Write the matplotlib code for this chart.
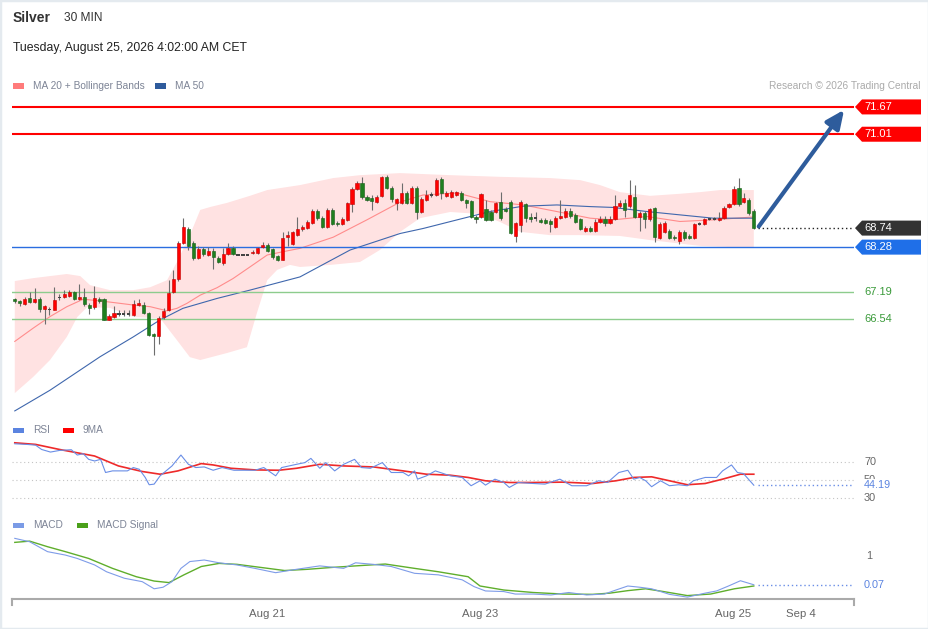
import matplotlib
matplotlib.use('Agg')
import matplotlib.pyplot as plt
from matplotlib.patches import Polygon, Rectangle
from matplotlib.lines import Line2D
import numpy as np

plt.rcParams['font.family'] = ['Liberation Sans', 'DejaVu Sans']

# ---- Silver, 30 min candles ----
opens = [67.02, 66.98, 66.90, 67.04, 66.96, 67.02, 66.78, 66.78, 66.76, 67.05,
         67.07, 67.10, 67.19, 67.02, 67.08, 66.88, 66.83, 67.02, 67.02, 66.53,
         66.60, 66.68, 66.66, 66.68, 66.64, 66.87, 66.88, 66.68, 66.18, 66.14,
         66.58, 66.77, 67.19, 67.50, 68.37, 68.72, 68.37, 68.02, 68.23, 68.09,
         68.19, 68.02, 67.89, 68.11, 68.27, 68.09, 68.09, 68.09, 68.13, 68.13,
         68.28, 68.33, 68.23, 68.06, 67.98, 68.52, 68.35, 68.57, 68.72, 68.75,
         68.87, 69.16, 68.99, 68.77, 69.18, 68.87, 68.83, 68.94, 69.32, 69.69,
         69.84, 69.50, 69.47, 69.38, 69.52, 69.98, 69.72, 69.34, 69.34, 69.60,
         69.34, 69.70, 69.14, 69.42, 69.53, 69.54, 69.93, 69.52, 69.50, 69.54,
         69.60, 69.42, 69.39, 69.02, 69.02, 69.20, 69.14, 69.14, 69.36, 69.20,
         69.38, 68.56, 68.81, 69.32, 69.00, 68.98, 68.94, 68.94, 68.91, 68.77,
         68.98, 69.02, 69.16, 69.06, 68.95, 68.67, 68.74, 68.68, 68.89, 68.95,
         68.87, 68.95, 69.27, 69.34, 69.27, 69.50, 69.00, 69.10, 68.95, 69.22,
         68.51, 68.65, 68.67, 68.53, 68.43, 68.64, 68.56, 68.51, 68.83, 68.83,
         68.96, 68.97, 68.94, 68.98, 69.26, 69.32, 69.70, 69.38, 69.42, 69.16]
highs = [67.06, 66.99, 67.07, 67.19, 67.29, 67.07, 66.88, 66.83, 67.31, 67.14,
         67.24, 67.24, 67.22, 67.39, 67.29, 66.93, 67.34, 67.07, 67.05, 66.66,
         66.85, 66.76, 66.76, 66.76, 67.00, 67.02, 66.95, 66.71, 66.20, 66.61,
         66.80, 67.48, 67.73, 68.43, 68.98, 68.77, 68.43, 68.31, 68.28, 68.28,
         68.26, 68.06, 68.26, 68.39, 68.31, 68.10, 68.10, 68.10, 68.21, 68.28,
         68.40, 68.38, 68.26, 68.09, 68.65, 68.68, 68.67, 69.02, 68.81, 68.94,
         69.20, 69.20, 69.03, 69.23, 69.23, 68.91, 69.01, 69.37, 69.73, 69.88,
         69.98, 69.54, 69.54, 69.54, 70.00, 70.02, 69.76, 69.47, 69.84, 69.64,
         69.76, 69.76, 69.49, 69.66, 69.61, 69.95, 69.98, 69.64, 69.66, 69.64,
         69.64, 69.44, 69.42, 69.06, 69.59, 69.42, 69.18, 69.37, 69.62, 69.25,
         69.42, 68.89, 69.42, 69.35, 69.10, 69.13, 68.98, 68.98, 68.96, 69.03,
         69.42, 69.23, 69.23, 69.10, 68.98, 68.79, 68.79, 68.96, 69.03, 69.03,
         69.03, 69.54, 69.42, 69.44, 69.90, 69.78, 69.15, 69.15, 69.23, 69.25,
         68.89, 68.91, 68.72, 68.57, 68.69, 68.69, 68.60, 68.86, 68.89, 68.98,
         68.98, 69.00, 69.14, 69.27, 69.35, 69.76, 69.94, 69.60, 69.47, 69.20]
lows = [66.94, 66.85, 66.88, 66.93, 66.93, 66.71, 66.42, 66.64, 66.76, 67.00,
        67.05, 67.07, 67.00, 67.00, 66.85, 66.66, 66.78, 66.93, 66.51, 66.51,
        66.56, 66.61, 66.61, 66.62, 66.61, 66.85, 66.66, 66.13, 65.67, 65.94,
        66.54, 66.73, 67.17, 67.46, 68.35, 68.21, 67.97, 67.99, 68.06, 68.06,
        67.75, 67.89, 67.85, 68.09, 68.09, 68.08, 68.08, 68.08, 68.11, 68.11,
        68.26, 68.16, 67.99, 67.94, 67.97, 68.31, 68.33, 68.55, 68.67, 68.72,
        68.84, 68.94, 68.74, 68.74, 68.81, 68.79, 68.81, 68.91, 69.13, 69.66,
        69.44, 69.40, 69.18, 69.35, 69.49, 69.69, 69.37, 69.18, 69.32, 69.32,
        69.32, 68.96, 69.10, 69.40, 69.49, 69.52, 69.44, 69.49, 69.47, 69.52,
        69.40, 69.23, 68.98, 68.86, 68.98, 68.91, 68.91, 69.10, 68.94, 69.13,
        68.60, 68.41, 68.65, 68.89, 68.89, 68.91, 68.86, 68.84, 68.65, 68.74,
        68.96, 68.98, 68.98, 68.86, 68.69, 68.65, 68.65, 68.65, 68.86, 68.79,
        68.84, 68.94, 69.23, 69.02, 69.23, 68.98, 68.67, 68.74, 68.91, 68.41,
        68.48, 68.62, 68.48, 68.45, 68.36, 68.45, 68.48, 68.48, 68.81, 68.81,
        68.94, 68.93, 68.91, 68.96, 69.23, 69.30, 69.27, 69.35, 69.06, 68.72]
closes = [66.98, 66.92, 67.02, 66.96, 67.02, 66.78, 66.85, 66.76, 67.00, 67.07,
          67.14, 67.20, 67.02, 67.08, 66.90, 66.81, 67.06, 66.98, 66.53, 66.61,
          66.69, 66.66, 66.68, 66.66, 66.90, 66.92, 66.68, 66.15, 66.13, 66.56,
          66.74, 67.18, 67.50, 68.39, 68.76, 68.31, 68.02, 68.23, 68.11, 68.19,
          68.03, 67.93, 68.11, 68.27, 68.11, 68.09, 68.09, 68.09, 68.17, 68.26,
          68.33, 68.19, 68.03, 67.97, 68.49, 68.57, 68.64, 68.73, 68.76, 68.88,
          69.16, 68.98, 68.77, 69.18, 68.84, 68.83, 68.96, 69.34, 69.69, 69.82,
          69.48, 69.42, 69.40, 69.50, 69.98, 69.72, 69.44, 69.44, 69.58, 69.34,
          69.70, 69.14, 69.44, 69.54, 69.56, 69.90, 69.60, 69.60, 69.62, 69.61,
          69.42, 69.34, 69.02, 68.96, 69.56, 68.94, 68.94, 69.34, 68.98, 69.16,
          68.63, 68.86, 69.38, 68.98, 68.95, 69.00, 68.88, 68.86, 68.83, 68.98,
          69.03, 69.16, 69.03, 68.89, 68.71, 68.75, 68.68, 68.89, 68.95, 68.87,
          68.95, 69.27, 69.34, 69.18, 69.54, 69.02, 69.11, 68.95, 69.19, 68.53,
          68.84, 68.86, 68.51, 68.49, 68.64, 68.49, 68.51, 68.83, 68.86, 68.95,
          68.96, 68.95, 68.98, 69.23, 69.32, 69.69, 69.32, 69.46, 69.11, 68.74]

# moving averages / bands (candle index, price)
ma20_x = [0, 3.7, 7.1, 10.5, 13.8, 17.2, 20.6, 23.9, 27.3, 30.7, 32.7, 34.7, 37.4, 40.8,
          44.0, 47.4, 50.9, 54.1, 57.5, 64.2, 71.0, 77.7, 82.3, 89.2, 95.8, 102.5,
          109.3, 116.0, 120.6, 127.5, 134.1, 140.8, 149]
ma20 = [66.00, 66.32, 66.60, 66.84, 67.02, 66.98, 66.93, 66.88, 66.84, 66.74, 66.80,
        66.92, 67.12, 67.30, 67.52, 67.80, 68.09, 68.17, 68.25, 68.52, 68.94, 69.37,
        69.54, 69.59, 69.38, 69.30, 69.14, 68.98, 68.94, 69.02, 68.90, 68.94, 69.01]
bb_upper_x = [0, 3.7, 7.1, 10.5, 13.2, 15.2, 19.2, 23.9, 27.3, 30.7, 32.7, 35.3, 37.4,
              39.4, 42.8, 47.4, 50.9, 57.5, 64.2, 69.6, 77.7, 87.8, 97.8, 107.9, 114.0,
              118.0, 122.0, 128.1, 134.1, 138.2, 142.2, 149]
bb_upper = [67.46, 67.53, 67.58, 67.63, 67.58, 67.36, 67.24, 67.24, 67.31, 67.48, 67.92,
            68.57, 69.18, 69.25, 69.35, 69.52, 69.66, 69.78, 69.95, 70.02, 70.07, 70.02,
            69.98, 69.95, 69.90, 69.78, 69.61, 69.52, 69.57, 69.61, 69.66, 69.66]
bb_lower_x = [0, 3.7, 7.1, 10.5, 12.6, 14.6, 19.2, 23.9, 29.3, 32.7, 35.3, 37.4, 42.8,
              46.8, 48.8, 50.9, 52.9, 55.5, 57.5, 63.6, 69.6, 73.6, 77.7, 81.7, 87.8,
              93.8, 97.8, 101.9, 107.9, 114.0, 122.0, 128.1, 138.2, 149]
bb_lower = [64.75, 65.14, 65.55, 66.11, 66.59, 66.83, 66.81, 66.59, 66.56, 66.03, 65.62,
            65.55, 65.72, 65.86, 66.68, 67.48, 67.73, 67.85, 67.80, 67.85, 67.92, 68.21,
            68.65, 68.98, 69.13, 69.08, 68.89, 68.65, 68.57, 68.57, 68.55, 68.45, 68.31,
            68.26]
ma50_x = [0, 7.1, 17.2, 23.9, 29.3, 33.9, 40.8, 47.4, 57.5, 67.6, 77.7, 82.3, 89.2,
          95.8, 102.5, 109.3, 116.0, 120.6, 127.5, 134.1, 140.8, 149]
ma50 = [64.32, 64.82, 65.63, 66.11, 66.52, 66.80, 67.04, 67.24, 67.56, 68.21, 68.61,
        68.73, 68.94, 69.14, 69.27, 69.30, 69.26, 69.24, 69.14, 69.06, 68.98, 68.98]

# levels
resistances = [71.67, 71.01]
pivot = 68.28
supports = [67.19, 66.54]
last_price = 68.74
arrow_target = (167.2, 71.60)

# RSI (candle index, value)
rsi_x = [0.0, 2.4, 4.2, 5.4, 7.2, 9.0, 11.4, 12.6, 13.8, 14.9, 16.1, 17.3, 18.3, 19.7,
         22.7, 23.9, 25.1, 26.3, 27.1, 28.1, 29.3, 31.7, 33.5, 35.0, 36.5, 38.2, 40.0,
         41.8, 44.2, 48.4, 50.2, 52.6, 53.8, 56.8, 58.5, 59.7, 61.5, 62.7, 64.5, 66.3,
         68.5, 69.9, 71.7, 74.1, 75.9, 78.3, 79.4, 80.6, 81.2, 83.0, 84.8, 87.8, 90.2,
         92.0, 93.8, 94.9, 96.8, 98.6, 99.7, 101.5, 104.5, 106.9, 109.9, 112.3, 115.3,
         117.7, 119.5, 121.8, 123.6, 124.8, 126.0, 127.2, 128.4, 130.2, 132.0, 133.8,
         135.6, 136.8, 139.2, 141.5, 142.7, 144.5, 145.7, 146.9, 149]
rsi = [90.2, 89.5, 88.7, 83.9, 81.0, 82.8, 83.6, 77.7, 79.2, 72.9, 71.1, 72.9, 58.3, 60.1,
       60.1, 63.8, 61.9, 52.8, 44.7, 45.4, 54.6, 65.6, 77.7, 67.4, 63.8, 64.5, 60.8,
       63.8, 60.8, 60.8, 63.8, 54.6, 63.8, 67.4, 69.3, 74.0, 63.0, 69.3, 60.1, 67.4,
       72.9, 63.8, 63.0, 69.3, 58.3, 58.3, 54.6, 60.1, 50.9, 54.6, 60.1, 54.6, 52.8,
       43.6, 49.1, 44.3, 50.9, 47.2, 41.7, 47.2, 46.1, 45.4, 50.9, 43.6, 43.6, 49.1,
       47.2, 58.3, 60.8, 50.9, 52.8, 49.1, 42.5, 49.1, 43.6, 44.7, 43.6, 49.1, 52.8,
       52.8, 60.1, 66.7, 58.3, 57.2, 44.19]
rsi_ma_x = [0.0, 4.2, 9.0, 16.1, 20.9, 25.7, 29.3, 32.9, 37.6, 40.0, 43.6, 48.4, 53.2,
            56.8, 61.5, 66.3, 72.3, 78.3, 83.0, 87.8, 91.4, 94.9, 99.7, 104.5, 110.5,
            116.5, 121.2, 124.8, 128.4, 132.0, 135.6, 139.2, 142.7, 146.3, 149]
rsi_ma = [91.3, 89.5, 83.9, 76.6, 65.6, 59.4, 56.4, 60.1, 68.2, 66.7, 63.0, 61.2, 60.8,
          63.0, 67.4, 65.6, 64.5, 60.1, 56.4, 55.3, 52.8, 49.1, 47.2, 47.2, 47.6, 46.1,
          49.1, 52.8, 53.5, 49.1, 44.7, 46.1, 50.9, 56.4, 56.4]

# MACD (candle index, value)
macd_x = [0.0, 3.0, 6.6, 10.2, 12.6, 16.1, 18.5, 22.1, 25.7, 28.1, 29.9, 31.7, 33.5,
          35.3, 38.2, 41.2, 44.8, 48.4, 52.6, 56.8, 61.5, 66.3, 68.7, 72.3, 75.9, 80.6,
          85.4, 90.2, 92.6, 94.9, 98.6, 100.9, 104.5, 108.1, 111.7, 115.3, 118.9, 121.2,
          123.6, 126.0, 128.4, 132.0, 135.6, 139.2, 141.5, 143.9, 146.3, 149]
macd = [1.57, 1.46, 1.14, 1.03, 0.92, 0.71, 0.49, 0.28, 0.17, -0.06, -0.01, 0.17, 0.60,
        0.82, 0.87, 0.78, 0.71, 0.60, 0.46, 0.57, 0.68, 0.60, 0.78, 0.73, 0.66, 0.44,
        0.39, 0.23, 0.01, -0.13, -0.15, -0.23, -0.23, -0.26, -0.18, -0.26, -0.23, -0.10,
        0.03, -0.01, -0.06, -0.24, -0.33, -0.20, -0.13, 0.03, 0.20, 0.07]
signal_x = [0.0, 3.0, 6.6, 10.2, 14.9, 19.7, 24.5, 28.1, 31.1, 34.1, 37.6, 41.2, 44.8,
            49.6, 54.4, 59.1, 63.9, 68.7, 74.7, 80.6, 85.4, 91.4, 93.8, 98.6, 104.5,
            110.5, 116.5, 120.0, 123.6, 127.2, 130.8, 135.6, 140.3, 145.1, 149]
signal = [1.44, 1.48, 1.30, 1.14, 0.92, 0.60, 0.33, 0.19, 0.14, 0.39, 0.66, 0.76, 0.73,
          0.63, 0.53, 0.57, 0.63, 0.68, 0.74, 0.60, 0.49, 0.33, 0.03, -0.10, -0.18,
          -0.23, -0.24, -0.20, -0.12, -0.06, -0.15, -0.28, -0.23, -0.06, 0.03]

date_ticks = [50.9, 93.8, 144.8, 158.5]
date_labels = ['Aug 21', 'Aug 23', 'Aug 25', 'Sep 4']

# ---- layout ----
W, H = 929, 629
fig = plt.figure(figsize=(W / 100, H / 100), dpi=100)
fig.patch.set_facecolor('white')


def box(l, t, r, b):
    return [l / W, 1 - b / H, (r - l) / W, (b - t) / H]


AX_L, AX_R = 11.8, 854.0
ax = fig.add_axes(box(AX_L, 97, AX_R, 420))
ax_rsi = fig.add_axes(box(AX_L, 440, AX_R, 506))
ax_macd = fig.add_axes(box(AX_L, 530, AX_R, 599.3))

for a in (ax, ax_rsi, ax_macd):
    a.set_xlim(-0.6, 169.2)
    a.set_facecolor('none')
    for s in a.spines.values():
        s.set_visible(False)
    a.set_yticks([])
    a.set_xticks([])

ax.set_ylim(64.10, 71.91)
ax_rsi.set_ylim(21.1, 94.4)
ax_macd.set_ylim(-0.40, 1.84)


def axx(px):
    # pixel x -> axes fraction
    return (px - AX_L) / (AX_R - AX_L)


def px_data(a, px):
    y0, y1 = a.get_ylim()
    return px * (y1 - y0) / (a.get_position().height * H)


# ---- price panel ----
poly_x = np.r_[bb_upper_x, bb_lower_x[::-1]]
poly_y = np.r_[bb_upper, bb_lower[::-1]]
ax.fill(poly_x, poly_y, color='#ffe2e2', lw=0, zorder=1)
ax.plot(ma20_x, ma20, color='#ff8c8c', lw=0.8, zorder=2)
ax.plot(ma50_x, ma50, color='#3f67ad', lw=0.8, zorder=2)

for lvl in resistances:
    ax.axhline(lvl, color='#ff0000', lw=1.5, zorder=2)
ax.axhline(pivot, color='#2a6de0', lw=1.0, zorder=2)
for lvl in supports:
    ax.axhline(lvl, color='#8dcc8d', lw=1.0, zorder=2)

idx = np.arange(len(closes))
o = np.array(opens)
c = np.array(closes)
hi = np.array(highs)
lo = np.array(lows)
diff = c - o
up = diff >= 0.035
down = diff <= -0.035
flat = ~(up | down)
bw = 0.64
ax.vlines(idx, lo, hi, color='#6d6d6d', lw=0.8, zorder=3)
ax.bar(idx[up], diff[up], bottom=o[up], width=bw, color='#ff0000',
       edgecolor='#c00000', lw=0.4, zorder=4)
ax.bar(idx[down], -diff[down], bottom=c[down], width=bw, color='#1f7f1f',
       edgecolor='#165c16', lw=0.4, zorder=4)
ax.bar(idx[flat], np.full(flat.sum(), 0.045), bottom=(o[flat] + c[flat]) / 2 - 0.022,
       width=bw, color='#444444', lw=0, zorder=4)

ax.hlines(last_price, idx[-1] + 0.8, 169.2, colors='#222222', linestyles=(0, (1, 2)),
          lw=1.0, zorder=3)

ax.annotate('', xy=arrow_target, xytext=(idx[-1] + 1.0, last_price + 0.04),
            arrowprops=dict(arrowstyle='-|>,head_length=0.55,head_width=0.25',
                            color='#2e5c9c', lw=3, shrinkA=0, shrinkB=0,
                            mutation_scale=20),
            zorder=6, annotation_clip=False)


def tag(a, y, color, text):
    hh = px_data(a, 7.5)
    tr = a.get_yaxis_transform()
    pts = [(axx(855), y), (axx(862), y + hh), (axx(921), y + hh),
           (axx(921), y - hh), (axx(862), y - hh)]
    a.add_patch(Polygon(pts, closed=True, transform=tr, facecolor=color,
                        edgecolor='none', clip_on=False, zorder=5))
    a.text(axx(864), y, text, transform=tr, color='white', fontsize=8,
           va='center', ha='left', clip_on=False, zorder=6)


for lvl in resistances:
    tag(ax, lvl, '#ff0000', f'{lvl:.2f}')
tag(ax, last_price, '#333333', f'{last_price:.2f}')
tag(ax, pivot, '#1f6fe8', f'{pivot:.2f}')
for lvl in supports:
    ax.text(axx(864), lvl, f'{lvl:.2f}', transform=ax.get_yaxis_transform(),
            color='#3a9a3a', fontsize=8, va='center', ha='left', clip_on=False)

# ---- RSI panel ----
for lvl in (70, 50, 30):
    ax_rsi.axhline(lvl, color='#c4c4c4', lw=0.8, ls=(0, (1, 2.5)), zorder=1)
    ax_rsi.text(axx(864), lvl, str(lvl), transform=ax_rsi.get_yaxis_transform(),
                color='#666666', fontsize=7.8, va='center', ha='left', clip_on=False)
ax_rsi.plot(rsi_x, rsi, color='#6a8ee6', lw=0.8, zorder=3)
ax_rsi.plot(rsi_ma_x, rsi_ma, color='#ee2a2a', lw=1.2, zorder=2)
ax_rsi.hlines(rsi[-1], rsi_x[-1] + 0.8, 169.2, colors='#6a8ee6', linestyles=(0, (1, 2)),
              lw=1.0)
ax_rsi.text(axx(864), rsi[-1], f'{rsi[-1]:.2f}', transform=ax_rsi.get_yaxis_transform(),
            color='#5b84e0', fontsize=7.8, va='center', ha='left', clip_on=False,
            zorder=6, bbox=dict(facecolor='white', edgecolor='none', pad=1.0))

# ---- MACD panel ----
ax_macd.plot(macd_x, macd, color='#7e9ce8', lw=0.8, zorder=3)
ax_macd.plot(signal_x, signal, color='#5fae2c', lw=1.0, zorder=2)
ax_macd.hlines(macd[-1], macd_x[-1] + 0.8, 169.2, colors='#6a8ee6',
               linestyles=(0, (1, 2)), lw=1.0)
for val in (1, 0):
    ax_macd.text(axx(866), val, str(val), transform=ax_macd.get_yaxis_transform(),
                 color='#666666', fontsize=7.8, va='center', ha='left', clip_on=False)
ax_macd.text(axx(864), macd[-1], f'{macd[-1]:.2f}', transform=ax_macd.get_yaxis_transform(),
             color='#5b84e0', fontsize=7.8, va='center', ha='left', clip_on=False,
             zorder=6, bbox=dict(facecolor='white', edgecolor='none', pad=1.0))

ax_macd.spines['bottom'].set_visible(True)
ax_macd.spines['bottom'].set_color('#aaaaaa')
ax_macd.spines['bottom'].set_linewidth(1.5)
ax_macd.set_xticks(date_ticks)
ax_macd.set_xticklabels(date_labels)
ax_macd.tick_params(axis='x', length=0, pad=7, labelsize=8.2, labelcolor='#666666')
for px in (AX_L, AX_R):
    fig.add_artist(Line2D([px / W, px / W], [1 - 599.3 / H, 1 - 605 / H],
                          color='#aaaaaa', lw=1.5, transform=fig.transFigure))

# ---- header and legends ----
fig.text(13 / W, 1 - 18 / H, 'Silver', fontsize=10, fontweight='bold', color='#333333',
         va='center')
fig.text(64 / W, 1 - 18 / H, '30 MIN', fontsize=8.6, color='#333333', va='center')
fig.text(13 / W, 1 - 48 / H, 'Tuesday, August 25, 2026 4:02:00 AM CET', fontsize=8.8,
         color='#222222', va='center')
fig.text(921 / W, 1 - 86 / H, 'Research \u00a9 2026 Trading Central', fontsize=7.3,
         color='#aaaaaa', va='center', ha='right')


def legend_item(x, y, color, label):
    fig.add_artist(Rectangle((x / W, 1 - (y + 2.5) / H), 11 / W, 5 / H,
                             transform=fig.transFigure, facecolor=color, edgecolor='none'))
    fig.text((x + 20) / W, 1 - y / H, label, fontsize=7.3, color='#7d8496', va='center')


legend_item(13, 86, '#ff7b7b', 'MA 20 + Bollinger Bands')
legend_item(155, 86, '#2f5b9c', 'MA 50')
legend_item(13, 430, '#5b84e0', 'RSI')
legend_item(63, 430, '#ff0000', '9MA')
legend_item(13, 525, '#7b9be6', 'MACD')
legend_item(77, 525, '#4aa01a', 'MACD Signal')

fig.add_artist(Rectangle((0, 0), 1, 1, transform=fig.transFigure, fill=False,
                         edgecolor='#e4eaef', lw=2.5))

fig.savefig('out.png', dpi=100)
